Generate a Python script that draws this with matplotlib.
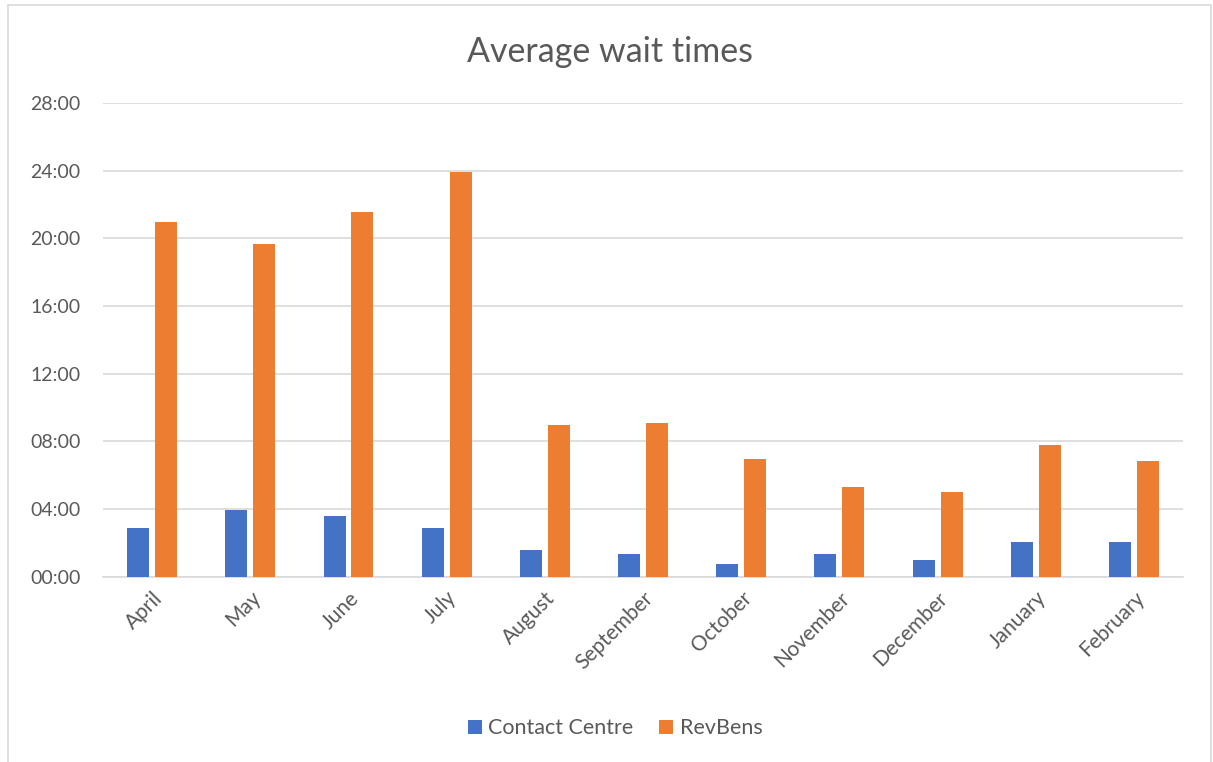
import numpy as np
import matplotlib.pyplot as plt
from matplotlib.ticker import FuncFormatter, MultipleLocator
from matplotlib.patches import Rectangle

# wait times in minutes
months = ['April', 'May', 'June', 'July', 'August', 'September',
          'October', 'November', 'December', 'January', 'February']
contact_centre = [2.88, 3.94, 3.59, 2.88, 1.57, 1.33, 0.75, 1.33, 0.98, 2.04, 2.04]
revbens = [20.97, 19.67, 21.56, 23.92, 8.98, 9.10, 6.98, 5.33, 4.98, 7.80, 6.86]

blue = '#4472C4'
orange = '#ED7D31'
grey = '#595959'

plt.rcParams['font.family'] = ['Lato', 'DejaVu Sans']

fig = plt.figure(figsize=(12.13, 7.62), dpi=100)
ax = fig.add_axes([0.0849, 0.2432, 0.8904, 0.6216])

x = np.arange(len(months))
w = 0.224
off = 0.142
ax.bar(x - off, contact_centre, w, color=blue, label='Contact Centre', zorder=3)
ax.bar(x + off, revbens, w, color=orange, label='RevBens', zorder=3)

ax.set_xlim(-0.5, len(months) - 0.5)
ax.set_ylim(0, 28)
ax.yaxis.set_major_locator(MultipleLocator(4))
ax.yaxis.set_major_formatter(FuncFormatter(lambda v, p: '%02d:00' % int(round(v))))
ax.grid(axis='y', color='#d9d9d9', linewidth=1.2, zorder=0)

for s in ['top', 'right', 'left']:
    ax.spines[s].set_visible(False)
ax.spines['bottom'].set_color('#d9d9d9')
ax.spines['bottom'].set_linewidth(1.2)

ax.set_xticks(x)
ax.set_xticklabels(months, rotation=45, ha='right', rotation_mode='anchor')
ax.tick_params(axis='y', length=0, labelsize=14, colors=grey, pad=16)
ax.tick_params(axis='x', length=0, labelsize=15, colors=grey, pad=8)

fig.text(0.5025, 0.932, 'Average wait times', ha='center', va='center',
         fontsize=24.5, color=grey)

ax.legend(loc='center', bbox_to_anchor=(0.507, 0.044), bbox_transform=fig.transFigure,
          ncol=2, frameon=False, fontsize=15.5, labelcolor=grey,
          handlelength=0.65, handleheight=0.65, columnspacing=1.2, handletextpad=0.3)

fig.patches.append(Rectangle((8 / 1213, -0.01), 1203 / 1213, 1.003, transform=fig.transFigure,
                             fill=False, edgecolor='#d9d9d9', linewidth=1.2))

fig.savefig('out.png', dpi=100)
